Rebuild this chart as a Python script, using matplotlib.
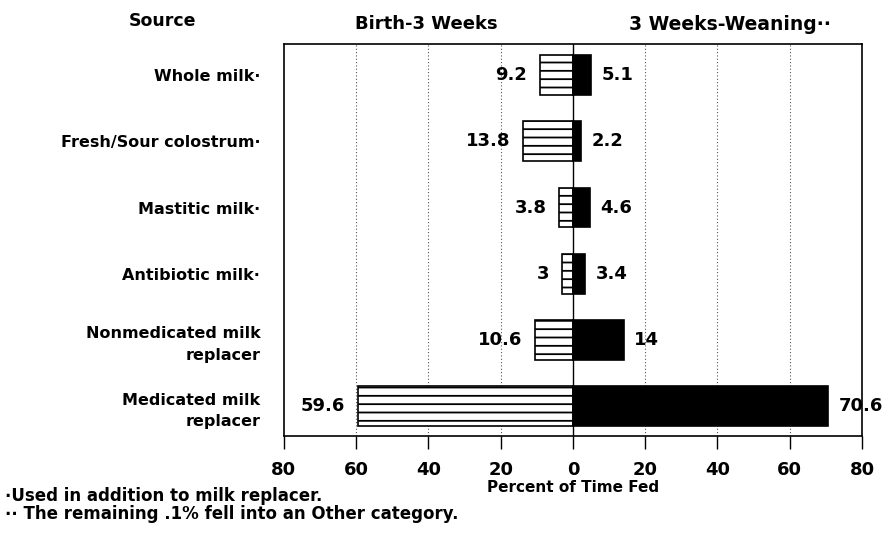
import matplotlib
matplotlib.use("Agg")
import matplotlib.pyplot as plt

# data
sources = ["Whole milk\u2219", "Fresh/Sour colostrum\u2219", "Mastitic milk\u2219",
           "Antibiotic milk\u2219", "Nonmedicated milk\nreplacer", "Medicated milk\nreplacer"]
birth_3wk = [9.2, 13.8, 3.8, 3, 10.6, 59.6]
wk3_weaning = [5.1, 2.2, 4.6, 3.4, 14, 70.6]
ticks = [-80, -60, -40, -20, 0, 20, 40, 60, 80]

plt.rcParams['font.family'] = ['DejaVu Sans']
plt.rcParams['font.weight'] = 'bold'
plt.rcParams['hatch.linewidth'] = 1.3

fig = plt.figure(figsize=(8.9, 5.33), dpi=100)
ax = fig.add_axes([0.319, 0.182, 0.6495, 0.7355])

pos = list(range(len(sources)))
left = [-v for v in birth_3wk]

ax.barh(pos, left, height=0.6, color='white', edgecolor='black', hatch='--', linewidth=1.2, zorder=3)
ax.barh(pos, wk3_weaning, height=0.6, color='black', edgecolor='black', linewidth=1.2, zorder=3)

for y, v in zip(pos, birth_3wk):
    ax.text(-v - 3.5, y, f"{v:g}", ha='right', va='center', fontsize=13, fontweight='bold')
for y, v in zip(pos, wk3_weaning):
    ax.text(v + 2.9, y, f"{v:g}", ha='left', va='center', fontsize=13, fontweight='bold', clip_on=False)

ax.set_xlim(-80, 80)
ax.set_ylim(5.45, -0.47)
ax.axvline(0, color='black', linewidth=1, zorder=4)
for t in ticks:
    if t not in (-80, 0, 80):
        ax.axvline(t, color='#555555', linewidth=0.8, linestyle=(0, (1, 2)), zorder=1)

ax.set_xticks(ticks)
ax.set_xticklabels([str(abs(t)) for t in ticks], fontsize=13, fontweight='bold')
ax.tick_params(axis='x', direction='out', length=9, width=1, pad=9)
ax.set_yticks(pos)
ax.set_yticklabels(sources, fontsize=11.5, fontweight='bold', ha='right', linespacing=1.55)
ax.tick_params(axis='y', length=0, pad=17)
for s in ax.spines.values():
    s.set_linewidth(1.2)

ax.set_xlabel("Percent of Time Fed", fontsize=11, fontweight='bold', labelpad=1)

fig.text(163 / 890, 1 - 21 / 533, "Source", ha='center', va='center', fontsize=12.5, fontweight='bold')
fig.text(426 / 890, 1 - 24 / 533, "Birth-3 Weeks", ha='center', va='center', fontsize=13, fontweight='bold')
fig.text(730 / 890, 1 - 24 / 533, "3 Weeks-Weaning\u2219\u2219", ha='center', va='center', fontsize=13.5, fontweight='bold')

fig.text(5 / 890, 1 - 496 / 533, "\u2219Used in addition to milk replacer.", ha='left', va='center', fontsize=12, fontweight='bold')
fig.text(5 / 890, 1 - 514 / 533, "\u2219\u2219 The remaining .1% fell into an Other category.", ha='left', va='center', fontsize=12, fontweight='bold')

fig.savefig("out.png", dpi=100)
